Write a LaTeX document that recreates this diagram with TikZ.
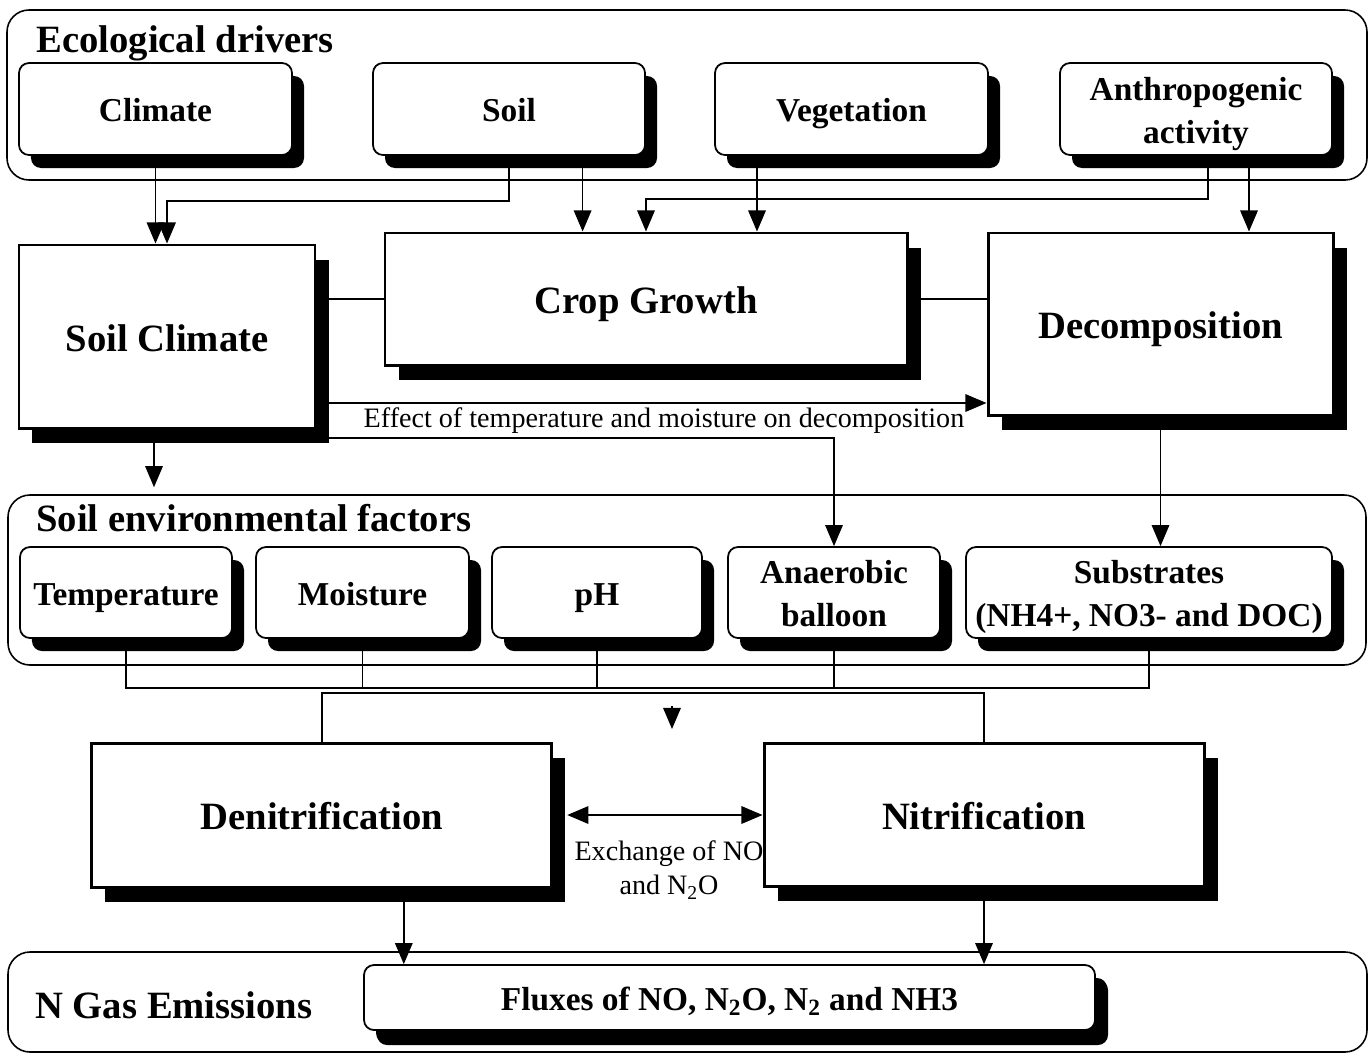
\documentclass[tikz,border=0pt]{standalone}
\usepackage{fontspec}
\setmainfont{Liberation Serif}
\usetikzlibrary{arrows.meta,shadows,calc}
% invisible rule that centres box text on its capitals
\newcommand\boxstrut{\vrule height 1.0em depth 0.24em width 0pt}
% two centred lines of box text
\newcommand\twolines[2]{\boxstrut #1\\#2\boxstrut}
\begin{document}
\begin{tikzpicture}[x=0.02cm,y=-0.02cm,
  boxsize/.style 2 args={minimum width=#1*0.02cm, minimum height=#2*0.02cm},
  group/.style={draw, line width=0.9pt, rounded corners=0.44cm, inner sep=0pt},
  grouptitle/.style={anchor=base west, inner sep=0pt, font=\fontsize{22}{26}\selectfont\bfseries},
  struts/.style={execute at begin node=\boxstrut, execute at end node=\boxstrut},
  driver/.style={draw, fill=white, line width=1pt, rounded corners=0.2cm, inner sep=0pt,
    align=center, font=\fontsize{19}{23}\selectfont\bfseries, struts,
    drop shadow={shadow xshift=0.24cm, shadow yshift=-0.26cm, fill=black, opacity=1}},
  process/.style={draw, fill=white, line width=1.7pt, inner sep=0pt,
    align=center, font=\fontsize{22}{26}\selectfont\bfseries, struts,
    drop shadow={shadow xshift=0.27cm, shadow yshift=-0.29cm, fill=black, opacity=1}},
  note/.style={inner sep=0pt, align=center, font=\fontsize{16}{19.3}\selectfont},
  link/.style={line width=0.8pt},
  arr/.style={line width=0.8pt, -{Triangle[length=12pt,width=10pt]}},
  arrs/.style={line width=0.8pt, {Triangle[length=12pt,width=10pt]}-{Triangle[length=12pt,width=10pt]}}
]
\useasboundingbox (0,0) rectangle (1372,1055);

% three grouping frames
\node[group, boxsize={1360}{170}] (g1) at (687,95) {};
\node[group, boxsize={1358}{170}] (g2) at (687,580) {};
\node[group, boxsize={1359}{100}] (g3) at (687.5,1002) {};
\node[grouptitle] (t1) at (36,52) {Ecological drivers};
\node[grouptitle] (t2) at (36,531) {Soil environmental factors};
\node[grouptitle] (t3) at (35,1018) {N Gas Emissions};

% ecological drivers
\node[driver, boxsize={273}{92}] (climate) at (155.5,109) {Climate};
\node[driver, boxsize={272}{92}] (soil) at (509,109) {Soil};
\node[driver, boxsize={273}{92}] (veg) at (851.5,109) {Vegetation};
\node[driver, boxsize={272}{92}] (anthro) at (1196,109) {\twolines{Anthropogenic}{activity}};

% processes
\node[process, boxsize={296}{183}] (soilclim) at (167,336.5) {Soil Climate};
\node[process, boxsize={522}{132}] (crop) at (646,299) {Crop Growth};
\node[process, boxsize={345}{182}] (decomp) at (1160.5,324) {Decomposition};

% soil environmental factors
\node[driver, boxsize={212}{91}] (temp) at (126,592.5) {Temperature};
\node[driver, boxsize={213}{91}] (moist) at (362.5,592.5) {Moisture};
\node[driver, boxsize={210}{91}] (ph) at (597,592.5) {pH};
\node[driver, boxsize={212}{91}] (anaer) at (834,592.5) {\twolines{Anaerobic}{balloon}};
\node[driver, boxsize={366}{91}] (substr) at (1149,592.5) {\twolines{Substrates}{(NH4+, NO3- and DOC)}};

% nitrogen processes
\node[process, boxsize={460}{144}] (denit) at (321.8,815) {Denitrification};
\node[process, boxsize={440}{143}] (nitri) at (984,814.5) {Nitrification};
\node[driver, line width=1pt, boxsize={731}{65},
  drop shadow={shadow xshift=0.26cm, shadow yshift=-0.3cm, fill=black, opacity=1}]
  (flux) at (729.5,997.5) {Fluxes of NO, N\textsubscript{2}O, N\textsubscript{2} and NH3};

% drivers to processes
\draw[arr] (climate.south) -- (climate.south |- soilclim.north);
\draw[arr] (soil.south) -- ++(0,45) -| (soilclim.north);
\draw[arr] ($(soil.south)+(73.6,0)$) coordinate (s2) -- (s2 |- crop.north);
\draw[arr] ($(anthro.south)+(12,0)$) -- ++(0,43) -| (crop.north);
\draw[arr] ($(veg.south)+(-94.5,0)$) coordinate (v1) -- (v1 |- crop.north);
\draw[arr] ($(anthro.south)+(53,0)$) coordinate (a2) -- (a2 |- decomp.north);

% links between processes
\draw[link] (soilclim.east |- crop.west) -- (crop.west);
\draw[link] (crop.east) -- (crop.east -| decomp.west);
\path ($(soilclim.east)+(0,66.5)$) coordinate (e1);
\draw[arr] (e1) -- (e1 -| decomp.west);
\node[note] (effect) at (664,421) {Effect of temperature and moisture on decomposition};
\draw[arr] ($(soilclim.east)+(0,101.5)$) -| (anaer.north);
\draw[arr] ($(soilclim.south)+(-13,0)$) coordinate (sc) -- ($(sc |- g2.north)+(0,-7)$);
\draw[arr] (decomp.south) -- (decomp.south |- substr.north);

% factors collected into the nitrogen processes
\coordinate (bus) at (0,688);
\coordinate (bus2) at (0,693);
\draw[link] (temp.south) -- (temp.south |- bus) -- (substr.south |- bus) -- (substr.south);
\draw[link] (moist.south) -- (moist.south |- bus);
\draw[link] (ph.south) -- (ph.south |- bus);
\draw[link] (anaer.south) -- (anaer.south |- bus);
\draw[link] (denit.north) -- (denit.north |- bus2) -- (nitri.north |- bus2) -- (nitri.north);
\coordinate (fl) at (672,706);
\draw[arr] (fl) -- ++(0,23);

% exchange between denitrification and nitrification
\draw[arrs] ($(denit.east)+(14,0)$) coordinate (x1) -- (x1 -| nitri.west);
\node[note] (exch) at (669,870) {Exchange of NO\\and N\textsubscript{2}O};

% emissions
\draw[arr] ($(denit.south)+(82,0)$) coordinate (d1) -- (d1 |- flux.north);
\draw[arr] (nitri.south) -- (nitri.south |- flux.north);
\end{tikzpicture}
\end{document}
